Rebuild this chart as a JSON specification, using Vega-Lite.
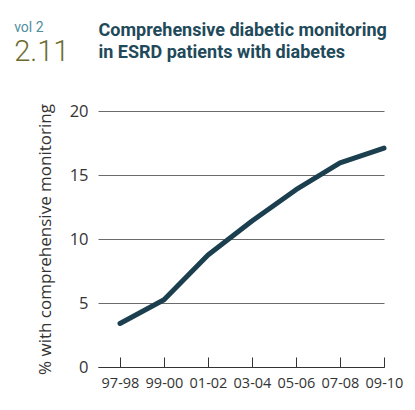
{
  "$schema": "https://vega.github.io/schema/vega-lite/v6.json",
  "width": 286,
  "height": 256,
  "autosize": {"type": "none"},
  "padding": {"left": 98, "top": 111, "right": 31, "bottom": 43},
  "background": "white",
  "title": {
    "text": "vol 2",
    "subtitle": "2.11",
    "anchor": "start",
    "frame": "bounds",
    "font": "Roboto",
    "fontSize": 14,
    "fontWeight": "normal",
    "color": "#4f8fa0",
    "subtitleFont": "Roboto",
    "subtitleFontSize": 29,
    "subtitleFontWeight": 300,
    "subtitleColor": "#6b6b2f",
    "subtitlePadding": 3,
    "offset": -46,
    "dx": -22
  },
  "data": {
    "values": [
      {"year": 1998, "pct": 3.4},
      {"year": 2000, "pct": 5.25},
      {"year": 2002, "pct": 8.75},
      {"year": 2004, "pct": 11.4},
      {"year": 2006, "pct": 13.85},
      {"year": 2008, "pct": 15.95},
      {"year": 2010, "pct": 17.1}
    ]
  },
  "layer": [
    {
      "mark": {"type": "line", "color": "#1b3f4e", "strokeWidth": 5, "strokeCap": "round", "strokeJoin": "round"},
      "encoding": {
        "x": {
          "field": "year",
          "type": "quantitative",
          "scale": {"domain": [1997, 2010], "nice": false, "zero": false},
          "axis": {
            "values": [1998, 2000, 2002, 2004, 2006, 2008, 2010],
            "labelExpr": "substring(toString(datum.value - 1), 2) + '-' + substring(toString(datum.value), 2)",
            "title": null,
            "grid": false,
            "domainColor": "#333333",
            "tickColor": "#333333",
            "tickSize": -10,
            "labelPadding": 19,
            "labelFont": "Open Sans",
            "labelFontSize": 14.5,
            "labelColor": "#333333",
            "labelFlush": false
          }
        },
        "y": {
          "field": "pct",
          "type": "quantitative",
          "scale": {"domain": [0, 20], "nice": false},
          "axis": {
            "values": [0, 5, 10, 15, 20],
            "title": "% with comprehensive monitoring",
            "titleFont": "Open Sans",
            "titleFontSize": 17,
            "titleFontWeight": "normal",
            "titleColor": "#333333",
            "titlePadding": 15,
            "domain": false,
            "ticks": false,
            "gridColor": "#6b6b6b",
            "gridWidth": 1,
            "labelPadding": 10,
            "labelFont": "Open Sans",
            "labelFontSize": 16.5,
            "labelColor": "#333333"
          }
        }
      }
    },
    {
      "mark": {"type": "line", "opacity": 0},
      "encoding": {
        "x": {
          "field": "year",
          "type": "quantitative",
          "axis": {
            "orient": "top",
            "labels": false,
            "ticks": false,
            "domain": false,
            "grid": false,
            "title": ["Comprehensive diabetic monitoring", "in ESRD patients with diabetes"],
            "titleAnchor": "start",
            "titleAlign": "left",
            "titleFont": "Roboto",
            "titleFontSize": 18,
            "titleFontWeight": "bold",
            "titleColor": "#1f4a5a",
            "titleLineHeight": 22,
            "titlePadding": 50
          }
        },
        "y": {"field": "pct", "type": "quantitative"}
      }
    }
  ],
  "resolve": {"axis": {"x": "independent"}},
  "config": {"view": {"stroke": null}}
}
